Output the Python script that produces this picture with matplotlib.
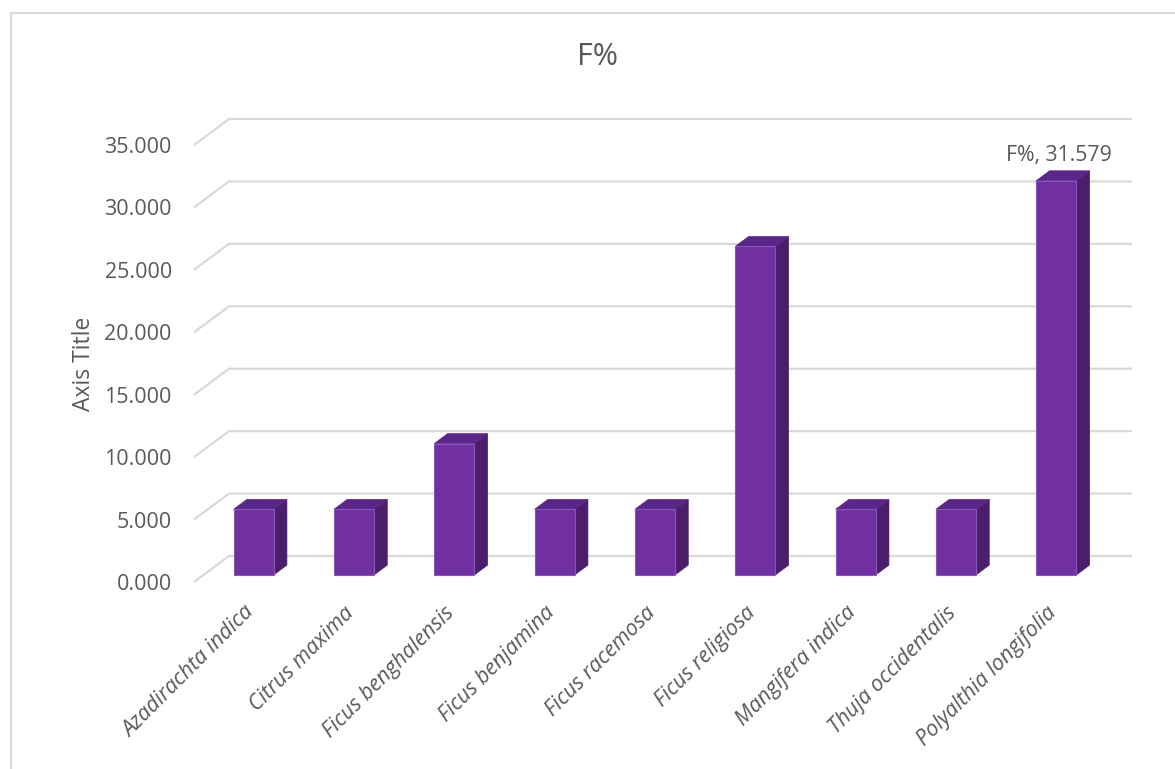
import numpy as np
import matplotlib
matplotlib.use("Agg")
import matplotlib.pyplot as plt
from matplotlib.patches import Polygon, Rectangle
from matplotlib.lines import Line2D

plt.rcParams['font.family'] = ['Open Sans', 'DejaVu Sans']

# F% per species
species = ["Azadirachta indica", "Citrus maxima", "Ficus benghalensis",
           "Ficus benjamina", "Ficus racemosa", "Ficus religiosa",
           "Mangifera indica", "Thuja occidentalis", "Polyalthia longifolia"]
f_pct = [5.263, 5.263, 10.526, 5.263, 5.263, 26.316, 5.263, 5.263, 31.579]
y_ticks = [0, 5, 10, 15, 20, 25, 30, 35]

TEXT = '#595959'
GRID = '#D9D9D9'
FRONT = '#7030A0'
SIDE = '#4A1E6B'
TOP = '#5B2689'

W, H = 1175, 769
fig = plt.figure(figsize=(W / 100, H / 100), dpi=100)

# front plane of the 3-D plot area (pixel box)
left_px, right_px, bot_px, top_px = 194, 1097, 582, 145
ax = fig.add_axes([left_px / W, 1 - bot_px / H,
                   (right_px - left_px) / W, (bot_px - top_px) / H])
n = len(species)
ax.set_xlim(-0.5, n - 0.5)
ax.set_ylim(0, 35)
for s in ax.spines.values():
    s.set_visible(False)
ax.set_xticks([])
ax.set_yticks(y_ticks)
ax.set_yticklabels([f"{t:.3f}" for t in y_ticks])
ax.tick_params(axis='y', length=0, pad=16, labelsize=15.5, labelcolor=TEXT)
ax.set_ylabel('Axis Title', fontsize=16.5, color=TEXT, labelpad=6)

# depth of the floor/wall, in data units
sx = (right_px - left_px) / n          # px per category
sy = (bot_px - top_px) / 35.0          # px per unit
ddx = 35 / sx
ddy = 26 / sy

# gridlines: diagonal on the side wall, then along the back wall
for t in y_ticks:
    ax.plot([-0.5, -0.5 + ddx, n - 0.5 + ddx], [t, t + ddy, t + ddy],
            color=GRID, lw=1.6, clip_on=False, zorder=0,
            solid_capstyle='butt')

# 3-D columns
f0 = 0.27       # where the column's front face sits in the depth
bd = 0.38       # column depth as share of the floor depth
bw = 40 / sx    # column width
for i, v in enumerate(f_pct):
    cx = i + f0 * ddx
    x0, x1 = cx - bw / 2, cx + bw / 2
    y0 = f0 * ddy
    ox, oy = bd * ddx, bd * ddy
    side = Polygon([(x1, y0), (x1 + ox, y0 + oy), (x1 + ox, y0 + v + oy), (x1, y0 + v)],
                   closed=True, facecolor=SIDE, edgecolor=SIDE, lw=0.5,
                   clip_on=False, zorder=2)
    top = Polygon([(x0, y0 + v), (x1, y0 + v), (x1 + ox, y0 + v + oy), (x0 + ox, y0 + v + oy)],
                  closed=True, facecolor=TOP, edgecolor=TOP, lw=0.5,
                  clip_on=False, zorder=2)
    front = Rectangle((x0, y0), bw, v, facecolor=FRONT, edgecolor='#8A55B8',
                      lw=0.8, clip_on=False, zorder=3)
    ax.add_patch(side)
    ax.add_patch(top)
    ax.add_patch(front)

# data label on the tallest column
imax = int(np.argmax(f_pct))
vmax = f_pct[imax]
ax.annotate(f"F%, {vmax:.3f}", xy=(imax + f0 * ddx + 0.03, f0 * ddy + vmax),
            xytext=(0, 18), textcoords='offset points', ha='center', va='center',
            fontsize=15.3, color=TEXT, annotation_clip=False)

# rotated category labels
for i, name in enumerate(species):
    ax.annotate(name, xy=(i + f0 * ddx - 0.03, 0), xytext=(0, -20),
                textcoords='offset points', ha='right', va='center',
                rotation=45, rotation_mode='anchor', fontsize=15.5,
                style='italic', color=TEXT, annotation_clip=False)

fig.text(598 / W, 1 - 57 / H, 'F%', ha='center', va='center',
         fontsize=22, color=TEXT)

# chart area border
bx, by = 11 / W, 1 - 13 / H
fig.add_artist(Line2D([bx, bx], [0, by], color=GRID, lw=1.5))
fig.add_artist(Line2D([bx, 1.0], [by, by], color=GRID, lw=1.5))

fig.savefig('out.png', dpi=100, facecolor='white')
